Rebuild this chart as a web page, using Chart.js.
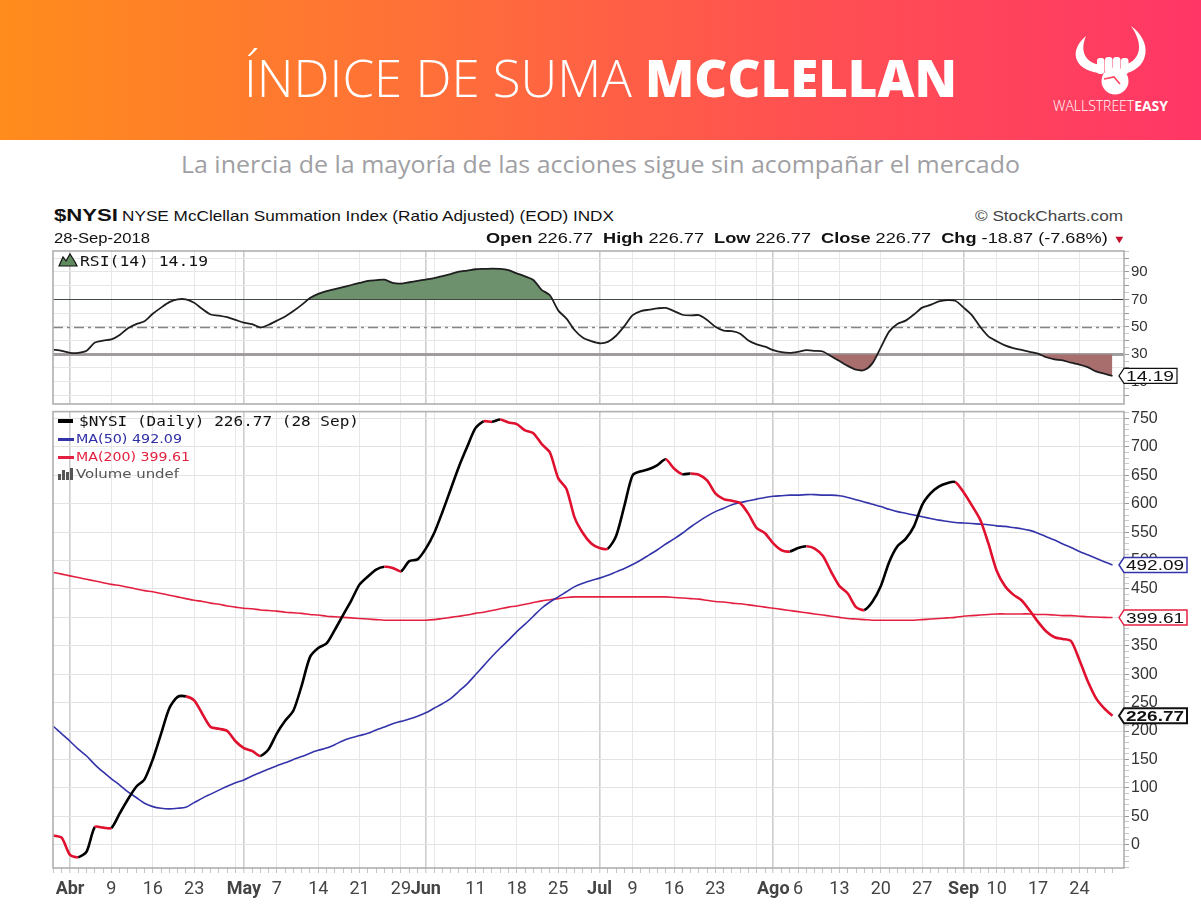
<!DOCTYPE html>
<html><head><meta charset="utf-8">
<script src="https://cdn.jsdelivr.net/npm/chart.js@4.4.1/dist/chart.umd.min.js"></script>
<style>
html,body{margin:0;padding:0;background:#fff;}
body{width:1201px;height:922px;position:relative;overflow:hidden;font-family:"Liberation Sans",Arial,sans-serif;}
#banner{position:absolute;left:0;top:0;width:1201px;height:140px;background:linear-gradient(90deg,#ff8c1c 0%,#ff7038 35%,#ff5250 65%,#ff3666 100%);}
.t{position:absolute;white-space:nowrap;transform-origin:0 50%;z-index:3;line-height:1.2;left:0;top:0;}
canvas{position:absolute;left:0;z-index:1;}
.dash{position:absolute;z-index:3;}
</style></head><body>
<div id="banner"></div>
<div class="t" id="title" style="color:#fff;font-family:'Open Sans';font-size:52px;"><span style="font-weight:300">ÍNDICE DE SUMA </span><span style="font-weight:800">MCCLELLAN</span></div>
<svg style="position:absolute;left:1060px;top:20px;z-index:3" width="100" height="80" viewBox="1060 20 100 80">
 <path fill="#fff" d="M1086,36 C1069,50 1073,69 1098,73 L1100,65 C1084,62 1080,50 1086,36 Z"/>
 <path fill="#fff" d="M1131,26 C1153,42 1149,67 1127,73 L1125,65 C1142,59 1143,43 1131,26 Z"/>
 <circle cx="1115" cy="81" r="13.5" fill="#fff"/>
 <rect x="1097" y="58" width="7.5" height="16" rx="3" fill="#fff"/>
 <rect x="1105" y="57" width="7.5" height="16" rx="3" fill="#fff"/>
 <rect x="1113" y="57" width="7.5" height="16" rx="3" fill="#fff"/>
 <rect x="1121" y="58" width="7.5" height="16" rx="3" fill="#fff"/>
 <path d="M1104,79 L1114,77 L1120,84" stroke="#ff4560" stroke-width="1.6" fill="none"/>
</svg>
<div class="t" id="brand" style="color:#fff;font-family:'Open Sans';font-size:14px"><span style="font-weight:300">WALLSTREET</span><span style="font-weight:700">EASY</span></div>
<div class="t" id="subtitle" style="color:#9f9fa4;font-family:'Open Sans';font-size:23px">La inercia de la mayoría de las acciones sigue sin acompañar el mercado</div>

<div class="t" id="hname" style="font-size:16px;font-weight:bold;color:#111">$NYSI</div>
<div class="t" id="hdesc" style="font-size:15px;color:#111">NYSE McClellan Summation Index (Ratio Adjusted) (EOD) INDX</div>
<div class="t" id="hcopy" style="font-size:15px;color:#444">© StockCharts.com</div>
<div class="t" id="hdate" style="font-size:14px;color:#111">28-Sep-2018</div>
<div class="t" id="hohlc" style="font-size:15px;color:#111"><b>Open</b> 226.77&nbsp; <b>High</b> 226.77&nbsp; <b>Low</b> 226.77&nbsp; <b>Close</b> 226.77&nbsp; <b>Chg</b> -18.87 (-7.68%) <span style="color:#c8102e;font-size:11px">▼</span></div>

<svg style="position:absolute;left:58px;top:253px;z-index:3" width="20" height="14" viewBox="0 0 20 14"><path d="M1,13 L5,4 L8,8 L12,1 L17,9 L19,13 Z" fill="#5e8a5e" stroke="#111" stroke-width="1.2"/></svg>
<div class="t" id="rsileg" style="font-family:'DejaVu Sans Mono';font-size:14px;color:#111">RSI(14) 14.19</div>

<div class="dash" style="left:58px;top:419px;width:15px;height:4px;background:#000"></div>
<div class="t" id="leg1" style="font-family:'DejaVu Sans Mono';font-size:14px;color:#111">$NYSI (Daily) 226.77 (28 Sep)</div>
<div class="dash" style="left:58px;top:438px;width:16px;height:3px;background:#3333a8"></div>
<div class="t" id="leg2" style="font-family:'DejaVu Sans';font-size:13px;color:#2e2ea6">MA(50) 492.09</div>
<div class="dash" style="left:58px;top:456px;width:16px;height:3px;background:#e3203f"></div>
<div class="t" id="leg3" style="font-family:'DejaVu Sans';font-size:13px;color:#e3203f">MA(200) 399.61</div>
<svg style="position:absolute;left:58px;top:468px;z-index:3" width="17" height="12" viewBox="0 0 17 12"><rect x="0" y="6" width="3" height="6" fill="#555"/><rect x="4" y="2" width="3" height="10" fill="#555"/><rect x="8" y="4" width="3" height="8" fill="#555"/><rect x="12" y="0" width="3" height="12" fill="#555"/></svg>
<div class="t" id="leg4" style="font-family:'DejaVu Sans';font-size:13px;color:#555">Volume undef</div>

<canvas id="rsiChart" width="1201" height="175" style="top:240px"></canvas>
<canvas id="mainChart" width="1201" height="522" style="top:400px"></canvas>

<script>
// ---------- DATA ----------
const days = ["03-28","03-29",
"04-02","04-03","04-04","04-05","04-06","04-09","04-10","04-11","04-12","04-13","04-16","04-17","04-18","04-19","04-20","04-23","04-24","04-25","04-26","04-27","04-30",
"05-01","05-02","05-03","05-04","05-07","05-08","05-09","05-10","05-11","05-14","05-15","05-16","05-17","05-18","05-21","05-22","05-23","05-24","05-25","05-29","05-30","05-31",
"06-01","06-04","06-05","06-06","06-07","06-08","06-11","06-12","06-13","06-14","06-15","06-18","06-19","06-20","06-21","06-22","06-25","06-26","06-27","06-28","06-29",
"07-02","07-03","07-05","07-06","07-09","07-10","07-11","07-12","07-13","07-16","07-17","07-18","07-19","07-20","07-23","07-24","07-25","07-26","07-27","07-30","07-31",
"08-01","08-02","08-03","08-06","08-07","08-08","08-09","08-10","08-13","08-14","08-15","08-16","08-17","08-20","08-21","08-22","08-23","08-24","08-27","08-28","08-29","08-30","08-31",
"09-04","09-05","09-06","09-07","09-10","09-11","09-12","09-13","09-14","09-17","09-18","09-19","09-20","09-21","09-24","09-25","09-26","09-27","09-28"];

const nysi = [16,12,
-18,-22,-12,31,30,29.5,55,80,102,115,150,195,240,260,261,254,230,207,204,200,182,
170,165,156,168,196,218,236,280,330,346,354,378,404,430,458,472,484,489,487,481,499,502,
521,548,585,625,665,700,733,745,744,748,743,740,729,724,705,690,645,626,575,548,530,
522,521,543,596,650,657,661,668,678,662,652,653,651,641,618,608,605,601,582,557,548,
530,518,516,522,525,521,508,480,455,442,418,413,428,455,497,525,538,560,598,618,630,636,638,
620,597,572,530,482,455,440,430,412,392,375,365,362,358,325,288,258,240,226.77];

const ma50 = [208,195,
182,168,156,141,128,116,105,93,83,73,67,64,63,64,66,74,82,89,96,103,109,
114,121,127,133,139,144,150,155,161,166,170,176,183,188,192,196,202,207,213,217,221,226,
232,240,248,257,270,283,299,315,331,346,360,375,388,402,416,427,436,445,454,460,465,
469,474,480,486,493,501,510,519,529,538,548,559,569,578,586,592,598,602,605,608,611,
613,614,615,615,616,616,615,615,614,611,607,603,599,595,590,586,583,580,577,574,571,569,567,
566,565,564,563,561,560,558,556,553,548,542,536,529,523,516,510,504,498,492.09];

const ma200 = [479,476,
473,470,467,464,461,458,456,453,450,447,445,442,439,436,433,430,428,425,423,420,418,
416,415,413,412,411,409,408,407,405,404,402,401,400,399,398,397,396,395,395,395,395,395,
395,396,398,400,402,404,407,409,412,415,418,420,423,426,429,431,433,435,436,436,436,
436,436,436,436,436,436,436,436,436,435,434,433,432,430,428,427,425,424,422,420,418,
416,414,412,410,408,406,404,402,400,398,397,396,395,395,395,395,395,395,396,397,398,399,400,
402,403,404,405,406,406,406,406,406,405,405,404,403,403,402,401,400.5,400,399.61];

const rsi = [33.4,32.4,
31,31,32.5,38.5,40,40.8,44,49,52,54,59.5,64,68,70,70,67.5,63,59,58.2,57,55,
53,52,49.5,51.5,54.5,57.5,61.5,66,71,74,76,77.5,79,80.5,82,83.5,84,84.4,82,81.5,82.5,83.5,
84.5,85.5,87,88.5,90.2,91,92,92.3,92.5,92.3,91.3,89,86.8,84.2,77,73,62,56,47.5,42,39.5,
38,39,43.5,50.5,58.5,61.5,62.5,63.5,63.8,61.5,58.8,58.3,58.5,55,50,47.2,46.8,45,40,37.2,35.5,
33,31.5,31,31.8,33,32.5,32,28.5,25,21.5,18.7,18.5,23.5,35,46.5,52,54.5,59,64,66,68.5,69.5,69,
64,58.5,50,43,39.5,36.5,34.5,33.2,31.8,30.5,27.8,26.3,25.5,23.8,22.5,20.6,17.5,15.8,14.19];

const tickDays  = ["04-02","04-09","04-16","04-23","05-01","05-07","05-14","05-21","05-29","06-01","06-11","06-18","06-25","07-02","07-09","07-16","07-23","08-01","08-06","08-13","08-20","08-27","09-04","09-10","09-17","09-24"];
const tickTexts = ["Abr","9","16","23","May","7","14","21","29","Jun","11","18","25","Jul","9","16","23","Ago","6","13","20","27","Sep","10","17","24"];
const monthDays = ["04-02","05-01","06-01","07-02","08-01","09-04"];
const weekDays  = ["04-02","04-09","04-16","04-23","04-30","05-07","05-14","05-21","05-29","06-04","06-11","06-18","06-25","07-02","07-09","07-16","07-23","07-30","08-06","08-13","08-20","08-27","09-04","09-10","09-17","09-24"];
const mainTickLabels = [0,50,100,150,200,250,300,350,400,450,500,550,600,650,700,750];
const rsiTickLabels = [10,30,50,70,90];
const rsiLevels = [70,50,30];

// ---------- LAYOUT OF TEXT ----------
function place(id, left, right, cy){
  const el=document.getElementById(id);
  el.style.transform='none';
  const r=el.getBoundingClientRect();
  el.style.left=left+'px';
  el.style.top=(cy-r.height/2)+'px';
  el.style.transform='scaleX('+((right-left)/r.width)+')';
}
function layout(){
  place('title',244,957,77);
  place('brand',1053,1168,106);
  place('subtitle',181,1020,165);
  place('hname',54,118,216);
  place('hdesc',122,614,216);
  place('hcopy',975,1123,216);
  place('hdate',54,150,238);
  place('hohlc',486,1126,238);
  place('rsileg',80,208,261);
  place('leg1',79,359,421);
  place('leg2',76,182,439);
  place('leg3',76,190,457);
  place('leg4',76,179,474);
}
layout();
if(document.fonts&&document.fonts.ready){document.fonts.ready.then(layout);}

// ---------- CHARTS ----------
const BLACK='#000000', NRED='#e0102f', BLUE='#3434aa', MRED='#e3203f';
const GREEN='#6d916d', BROWN='#a86d6d';
const pts = arr => arr.map((v,i)=>({x:i,y:v}));
const dayOf = c => (c && c.tick) ? days[c.tick.value] : undefined;

function xAxis(showLabels){
  return {
    type:'linear', min:-0.06, max:129.39,
    afterBuildTicks: s => { s.ticks = days.map((d,i)=>({value:i})); },
    afterFit: s => { s.height = showLabels ? 54 : 0; },
    border:{display:false},
    grid:{
      color: c => { const d=dayOf(c); return monthDays.includes(d) ? '#cdcdcd' : (weekDays.includes(d) ? '#e7e7e7' : 'rgba(0,0,0,0)'); },
      lineWidth: c => monthDays.includes(dayOf(c)) ? 1.6 : 1,
      drawTicks: showLabels, tickLength:5, tickColor:'#c4c4c4', tickWidth:1
    },
    ticks:{
      display: showLabels, autoSkip:false, maxRotation:0, minRotation:0, padding:6, color:'#444',
      callback: v => { const k=tickDays.indexOf(days[v]); return k<0 ? '' : tickTexts[k]; },
      font: c => ({family:'Roboto', size:18, weight: monthDays.includes(dayOf(c)) ? 'bold' : 'normal'})
    }
  };
}

const framePlugin = {id:'frame', afterDraw(chart){
  const {ctx, chartArea:a} = chart;
  ctx.save(); ctx.strokeStyle='#b0b0b0'; ctx.lineWidth=1.6;
  ctx.strokeRect(a.left, a.top, a.right-a.left, a.bottom-a.top);
  ctx.restore();
}};

function drawTag(chart, value, stroke, width, bold, lw){
  const {ctx, chartArea:a, scales:{y}} = chart;
  const py = y.getPixelForValue(value), x0 = a.right-5, h = 15, w = width;
  ctx.save();
  ctx.beginPath(); ctx.moveTo(x0, py); ctx.lineTo(x0+5, py-h/2); ctx.lineTo(x0+w, py-h/2);
  ctx.lineTo(x0+w, py+h/2); ctx.lineTo(x0+5, py+h/2); ctx.closePath();
  ctx.fillStyle='#fff'; ctx.fill(); ctx.lineWidth=lw; ctx.strokeStyle=stroke; ctx.stroke();
  const txt = value.toFixed(2);
  ctx.font = (bold?'bold ':'') + '15px "Liberation Sans"';
  const tw = ctx.measureText(txt).width, target = w-10;
  ctx.translate(x0+7, py+1); ctx.scale(target/tw, 1);
  ctx.fillStyle='#111'; ctx.textBaseline='middle'; ctx.fillText(txt, 0, 0);
  ctx.restore();
}

const rsiLevelPlugin = {id:'rsiLevels', beforeDatasetsDraw(chart){
  const {ctx, chartArea:a, scales:{y}} = chart;
  ctx.save();
  rsiLevels.forEach(l => {
    const py = Math.round(y.getPixelForValue(l))+0.5;
    ctx.beginPath(); ctx.moveTo(a.left, py); ctx.lineTo(a.right, py);
    if(l===70){ctx.strokeStyle='#333'; ctx.lineWidth=1.2; ctx.setLineDash([]);}
    else if(l===50){ctx.strokeStyle='#858585'; ctx.lineWidth=1.5; ctx.setLineDash([10,4,3,4]);}
    else {ctx.strokeStyle='#a0a0a0'; ctx.lineWidth=3; ctx.setLineDash([]);}
    ctx.stroke();
  });
  ctx.restore();
}};

const rsiTagPlugin = {id:'rsiTag', afterDraw(chart){ drawTag(chart, rsi[rsi.length-1], '#111', 58, false, 1.2); }};
const mainTagPlugin = {id:'mainTag', afterDraw(chart){
  drawTag(chart, ma50[ma50.length-1], BLUE, 68, false, 1.5);
  drawTag(chart, ma200[ma200.length-1], MRED, 68, false, 1.5);
  drawTag(chart, nysi[nysi.length-1], '#111', 68, true, 2);
}};

new Chart(document.getElementById('rsiChart'), {
  type:'line',
  data:{datasets:[
    {data:pts(rsi), borderColor:'#1e1e1e', borderWidth:1.8, pointRadius:0, tension:0.25,
     fill:{target:{value:70}, above:GREEN, below:'rgba(0,0,0,0)'}},
    {data:pts(rsi), borderColor:'rgba(0,0,0,0)', borderWidth:1, pointRadius:0, tension:0.25,
     fill:{target:{value:30}, above:'rgba(0,0,0,0)', below:BROWN}}
  ]},
  options:{
    responsive:false, animation:false, devicePixelRatio:1,
    layout:{padding:{left:53, right:0, top:10, bottom:6}},
    plugins:{legend:{display:false}, tooltip:{enabled:false}},
    scales:{
      x: xAxis(false),
      y:{position:'right', min:-6.3, max:105.3,
        afterBuildTicks: s => { const t=[]; for(let v=0; v<=105; v+=5) t.push({value:v}); s.ticks=t; },
        afterFit: s => { s.width = 77; },
        border:{display:false},
        grid:{color: c => (c.tick.value%10===0) ? '#e6e6e6' : 'rgba(0,0,0,0)', tickLength:5, tickColor: c => (c.tick.value%10===0)?'#999':'#c8c8c8'},
        ticks:{autoSkip:false, padding:2, color:'#333', font:{family:'Liberation Sans', size:15},
          callback: v => rsiTickLabels.includes(v) ? String(v) : ''}
      }
    }
  },
  plugins:[rsiLevelPlugin, framePlugin, rsiTagPlugin]
});

new Chart(document.getElementById('mainChart'), {
  type:'line',
  data:{datasets:[
    {data:pts(nysi), borderColor:BLACK, borderWidth:2.6, pointRadius:0, tension:0.25, fill:false,
     segment:{borderColor: c => c.p1.parsed.y < c.p0.parsed.y ? NRED : BLACK}},
    {data:pts(ma50), borderColor:BLUE, borderWidth:1.6, pointRadius:0, tension:0.3, fill:false},
    {data:pts(ma200), borderColor:MRED, borderWidth:1.6, pointRadius:0, tension:0.3, fill:false}
  ]},
  options:{
    responsive:false, animation:false, devicePixelRatio:1,
    layout:{padding:{left:53, right:0, top:9, bottom:0}},
    plugins:{legend:{display:false}, tooltip:{enabled:false}},
    scales:{
      x: xAxis(true),
      y:{position:'right', min:-41, max:762,
        afterBuildTicks: s => { const t=[]; for(let v=-40; v<=760; v+=10) t.push({value:v}); s.ticks=t; },
        afterFit: s => { s.width = 77; },
        border:{display:false},
        grid:{color: c => (c.tick.value%50===0 && c.tick.value>=0) ? '#e3e3e3' : 'rgba(0,0,0,0)', tickLength:5,
          tickColor: c => (c.tick.value%50===0)?'#999':'#c8c8c8'},
        ticks:{autoSkip:false, padding:2, color:'#333', font:{family:'Liberation Sans', size:16},
          callback: v => mainTickLabels.includes(v) ? String(v) : ''}
      }
    }
  },
  plugins:[framePlugin, mainTagPlugin]
});
</script>
</body></html>
